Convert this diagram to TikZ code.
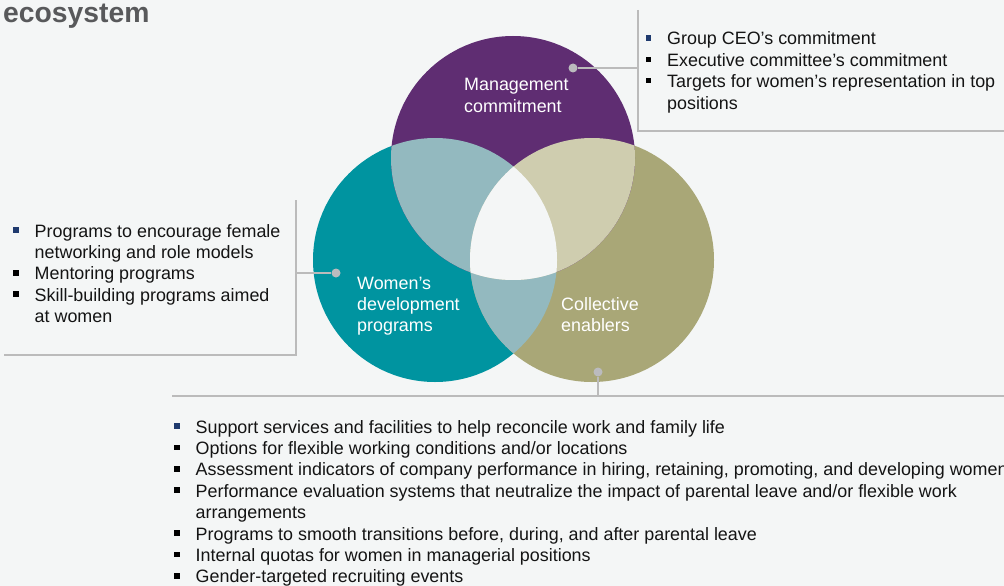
\documentclass[tikz,border=0pt]{standalone}
\usepackage{fontspec}
\setmainfont{Liberation Sans}
\definecolor{bg}{HTML}{F4F6F6}
\definecolor{mpurple}{HTML}{5F2D72}
\definecolor{mteal}{HTML}{0094A0}
\definecolor{molive}{HTML}{A9A777}
\definecolor{ovteal}{HTML}{93B9BF}
\definecolor{ovolive}{HTML}{CFCDAF}
\definecolor{navy}{HTML}{1F3A6E}
\definecolor{titlegray}{HTML}{58595B}
\definecolor{linegray}{HTML}{BBBBBB}
\definecolor{dotgray}{HTML}{BBBBBE}
\definecolor{txtc}{HTML}{141414}
\newcommand\bul[1]{\makebox[21.5pt][l]{\textcolor{#1}{\rule[4.3pt]{5.5pt}{5.5pt}}}}
\begin{document}
\begin{tikzpicture}[x=1pt,y=-1pt,
  txt/.style={inner sep=0pt, anchor=base west, font=\fontsize{17.9}{21.4}\selectfont, text=txtc},
  lbl/.style={inner sep=0pt, anchor=base west, font=\fontsize{17.9}{21.4}\selectfont, text=white},
  boxline/.style={draw=linegray, line width=2.2pt},
  conn/.style={draw=linegray, line width=1.3pt},
  dot/.style={circle, fill=dotgray, inner sep=0pt, minimum size=9pt}]
\fill[bg] (0,0) rectangle (1004,586);
\useasboundingbox (0,0) rectangle (1004,586);
% title
\node[inner sep=0pt, anchor=base west, font=\bfseries\fontsize{28.3}{30}\selectfont, text=titlegray] (title) at (3,23) {ecosystem};
% Venn circles
\coordinate (cT) at (513,158);
\coordinate (cL) at (435,260);
\coordinate (cR) at (592,260);
\fill[mteal] (cL) circle (122pt);
\fill[molive] (cR) circle (122pt);
\fill[mpurple] (cT) circle (122pt);
\begin{scope}
  \clip (cL) circle (122pt);
  \fill[ovteal] (cT) circle (122pt);
  \fill[ovteal] (cR) circle (122pt);
\end{scope}
\begin{scope}
  \clip (cT) circle (122pt);
  \fill[ovolive] (cR) circle (122pt);
  \clip (cR) circle (122pt);
  \fill[bg] (cL) circle (122pt);
\end{scope}
% circle labels
\node[lbl] (m1) at (464,91) {Management};
\node[lbl] (m2) at (464,112.4) {commitment};
\node[lbl] (w1) at (357,289) {Women’s};
\node[lbl] (w2) at (357,310.4) {development};
\node[lbl] (w3) at (357,331.8) {programs};
\node[lbl] (c1) at (561,310.4) {Collective};
\node[lbl] (c2) at (561,331.8) {enablers};
% box lines
\draw[boxline] (638,10) -- (638,131) -- (1004,131);
\draw[boxline] (296,200) -- (296,355) -- (4,355);
\draw[boxline] (172,396) -- (1004,396);
% connectors
\node[dot] (dT) at (573,68) {};
\coordinate (eT) at (638,68);
\draw[conn] (dT) -- (eT);
\node[dot] (dL) at (336,273) {};
\coordinate (eL) at (296,273);
\draw[conn] (dL) -- (eL);
\node[dot] (dR) at (598,372) {};
\coordinate (eR) at (598,396);
\draw[conn] (dR) -- (eR);
% right list
\node[txt] (r1) at (645.5,45) {\bul{navy}Group CEO’s commitment};
\node[txt] (r2) at (645.5,66.4) {\bul{black}Executive committee’s commitment};
\node[txt] (r3) at (645.5,87.8) {\bul{black}Targets for women’s representation in top};
\node[txt] (r4) at (667,109.2) {positions};
% left list
\node[txt] (l1) at (13,237) {\bul{navy}Programs to encourage female};
\node[txt] (l2) at (34.5,258.4) {networking and role models};
\node[txt] (l3) at (13,279.8) {\bul{black}Mentoring programs};
\node[txt] (l4) at (13,301.2) {\bul{black}Skill-building programs aimed};
\node[txt] (l5) at (34.5,322.6) {at women};
% bottom list
\node[txt] (b1) at (174,433) {\bul{navy}Support services and facilities to help reconcile work and family life};
\node[txt] (b2) at (174,454.4) {\bul{black}Options for flexible working conditions and/or locations};
\node[txt] (b3) at (174,475.8) {\bul{black}Assessment indicators of company performance in hiring, retaining, promoting, and developing women};
\node[txt] (b4) at (174,497.2) {\bul{black}Performance evaluation systems that neutralize the impact of parental leave and/or flexible work};
\node[txt] (b5) at (195.5,518.6) {arrangements};
\node[txt] (b6) at (174,540) {\bul{black}Programs to smooth transitions before, during, and after parental leave};
\node[txt] (b7) at (174,561.4) {\bul{black}Internal quotas for women in managerial positions};
\node[txt] (b8) at (174,582.8) {\bul{black}Gender-targeted recruiting events};
\end{tikzpicture}
\end{document}
